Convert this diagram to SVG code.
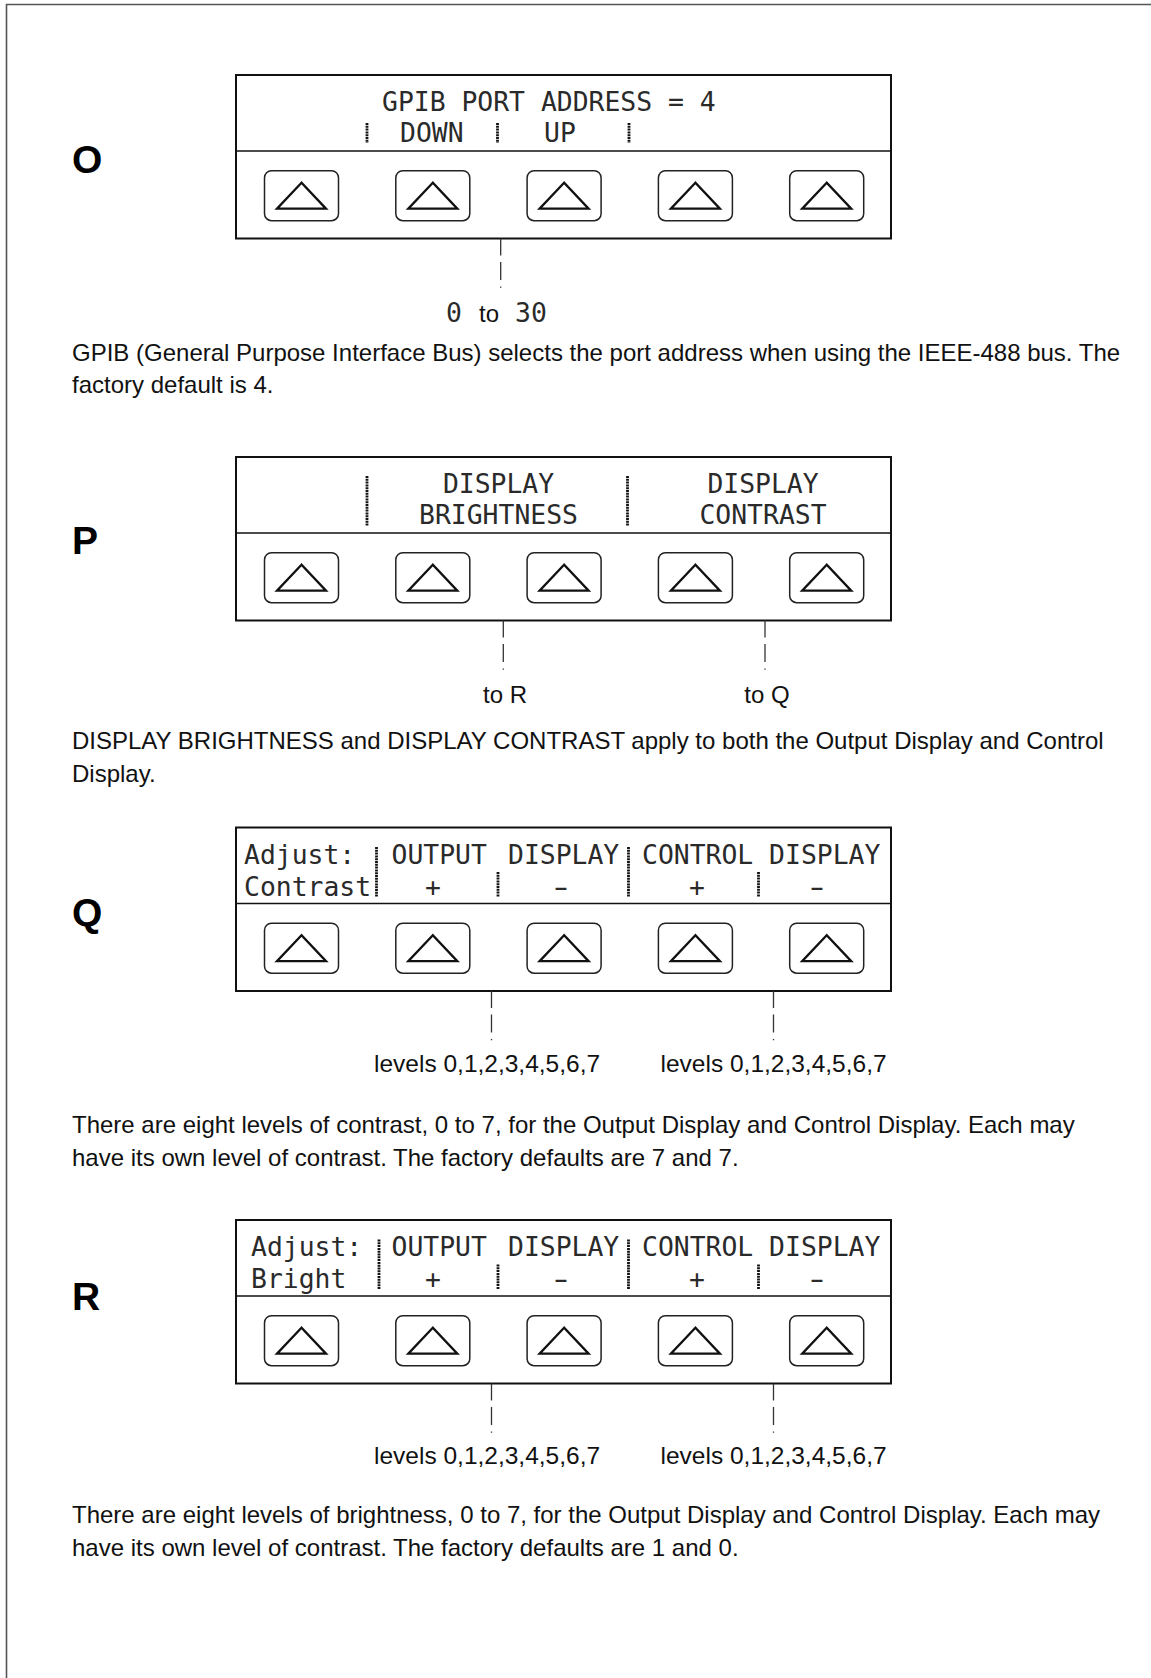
<svg xmlns="http://www.w3.org/2000/svg" xmlns:xlink="http://www.w3.org/1999/xlink" width="1151" height="1678" viewBox="0 0 1151 1678">
<style>
.frame{stroke:#555;stroke-width:1.6;fill:none}
.panel{fill:#fff;stroke:#111;stroke-width:2}
.div{stroke:#111;stroke-width:1.5}
.btn{fill:#fff;stroke:#222;stroke-width:1.5}
.tri{fill:none;stroke:#111;stroke-width:2.3}
.lcd{font-family:"DejaVu Sans Mono","Liberation Mono",monospace;font-size:26.4px;fill:#2a2a2a}
.mid{text-anchor:middle}
.bar{stroke:#111;stroke-width:2.8;stroke-dasharray:2 0.8}
.lbl{font-family:"Liberation Sans",Arial,sans-serif;font-weight:bold;font-size:39px;fill:#000}
.body{font-family:"Liberation Sans",Arial,sans-serif;font-size:24px;fill:#111}
.lev{font-family:"Liberation Sans",Arial,sans-serif;font-size:24.5px;fill:#111}
.conn{stroke:#333;stroke-width:1.3;fill:none;stroke-dasharray:17 6.5 18 6.5 1.2 60}
</style>
<defs>
<g id="btn">
<rect class="btn" x="0" y="0" width="74" height="50" rx="7"/>
<polygon class="tri" points="37,12 12.5,38 61.5,38"/>
</g>
</defs>
<rect width="1151" height="1678" fill="#fff"/>
<path class="frame" d="M6.5,1678 V4.5 H1151"/>

<!-- Panel O -->
<g id="node-O">
<text class="lbl" x="72" y="173">O</text>
<rect class="panel" x="236" y="75" width="655" height="163.5"/>
<line class="div" x1="236" y1="151" x2="891" y2="151"/>
<text class="lcd" x="382" y="111">GPIB PORT ADDRESS = 4</text>
<line class="bar" x1="367" y1="123" x2="367" y2="143"/>
<text class="lcd" x="400" y="142">DOWN</text>
<line class="bar" x1="497.5" y1="123" x2="497.5" y2="143"/>
<text class="lcd" x="544" y="142">UP</text>
<line class="bar" x1="629" y1="123" x2="629" y2="143"/>
<use xlink:href="#btn" x="264.5" y="170.7"/>
<use xlink:href="#btn" x="395.8" y="170.7"/>
<use xlink:href="#btn" x="527.1" y="170.7"/>
<use xlink:href="#btn" x="658.4" y="170.7"/>
<use xlink:href="#btn" x="789.7" y="170.7"/>
<text class="lcd" x="446" y="322">0</text>
<text class="body" x="479" y="322">to</text>
<text class="lcd" x="515" y="322">30</text>
<text class="body" x="72" y="360.5">GPIB (General Purpose Interface Bus) selects the port address when using the IEEE-488 bus. The</text>
<text class="body" x="72" y="393.4">factory default is 4.</text>
</g>

<!-- Panel P -->
<g id="node-P">
<text class="lbl" x="72" y="553.5">P</text>
<rect class="panel" x="236" y="457" width="655" height="163.5"/>
<line class="div" x1="236" y1="533" x2="891" y2="533"/>
<line class="bar" x1="367" y1="476" x2="367" y2="526"/>
<line class="bar" x1="627.5" y1="476" x2="627.5" y2="526"/>
<text class="lcd mid" x="498.5" y="493">DISPLAY</text>
<text class="lcd mid" x="498.5" y="524">BRIGHTNESS</text>
<text class="lcd mid" x="763" y="493">DISPLAY</text>
<text class="lcd mid" x="763" y="524">CONTRAST</text>
<use xlink:href="#btn" x="264.5" y="552.7"/>
<use xlink:href="#btn" x="395.8" y="552.7"/>
<use xlink:href="#btn" x="527.1" y="552.7"/>
<use xlink:href="#btn" x="658.4" y="552.7"/>
<use xlink:href="#btn" x="789.7" y="552.7"/>
<text class="body mid" x="505" y="702.5">to R</text>
<text class="body mid" x="767" y="702.5">to Q</text>
<text class="body" x="72" y="748.6">DISPLAY BRIGHTNESS and DISPLAY CONTRAST apply to both the Output Display and Control</text>
<text class="body" x="72" y="781.5">Display.</text>
</g>

<!-- Panel Q -->
<g id="node-Q">
<text class="lbl" x="72" y="926">Q</text>
<rect class="panel" x="236" y="827.5" width="655" height="163.5"/>
<line class="div" x1="236" y1="903.5" x2="891" y2="903.5"/>
<text class="lcd" x="244" y="863.5">Adjust:</text>
<text class="lcd" x="244" y="896">Contrast</text>
<line class="bar" x1="376.5" y1="847" x2="376.5" y2="897"/>
<text class="lcd" x="391.5" y="863.5">OUTPUT</text>
<text class="lcd" x="508" y="863.5">DISPLAY</text>
<text class="lcd mid" x="433" y="896">+</text>
<line class="bar" x1="498" y1="872" x2="498" y2="897"/>
<text class="lcd mid" transform="translate(561,896) scale(1.6,1)">-</text>
<line class="bar" x1="628.5" y1="847" x2="628.5" y2="897"/>
<text class="lcd" x="642" y="863.5">CONTROL DISPLAY</text>
<text class="lcd mid" x="697" y="896">+</text>
<line class="bar" x1="758.5" y1="872" x2="758.5" y2="897"/>
<text class="lcd mid" transform="translate(817,896) scale(1.6,1)">-</text>
<use xlink:href="#btn" x="264.5" y="923.2"/>
<use xlink:href="#btn" x="395.8" y="923.2"/>
<use xlink:href="#btn" x="527.1" y="923.2"/>
<use xlink:href="#btn" x="658.4" y="923.2"/>
<use xlink:href="#btn" x="789.7" y="923.2"/>
<text class="lev" x="374" y="1072">levels 0,1,2,3,4,5,6,7</text>
<text class="lev" x="660.5" y="1072">levels 0,1,2,3,4,5,6,7</text>
<text class="body" x="72" y="1132.6">There are eight levels of contrast, 0 to 7, for the Output Display and Control Display. Each may</text>
<text class="body" x="72" y="1165.5">have its own level of contrast. The factory defaults are 7 and 7.</text>
</g>

<!-- Panel R -->
<g id="node-R">
<text class="lbl" x="72" y="1310">R</text>
<rect class="panel" x="236" y="1220" width="655" height="163.5"/>
<line class="div" x1="236" y1="1296" x2="891" y2="1296"/>
<text class="lcd" x="251" y="1256">Adjust:</text>
<text class="lcd" x="251" y="1288">Bright</text>
<line class="bar" x1="379" y1="1239.5" x2="379" y2="1289.5"/>
<text class="lcd" x="391.5" y="1256">OUTPUT</text>
<text class="lcd" x="508" y="1256">DISPLAY</text>
<text class="lcd mid" x="433" y="1288">+</text>
<line class="bar" x1="498" y1="1264.5" x2="498" y2="1289.5"/>
<text class="lcd mid" transform="translate(561,1288) scale(1.6,1)">-</text>
<line class="bar" x1="628.5" y1="1239.5" x2="628.5" y2="1289.5"/>
<text class="lcd" x="642" y="1256">CONTROL DISPLAY</text>
<text class="lcd mid" x="697" y="1288">+</text>
<line class="bar" x1="758.5" y1="1264.5" x2="758.5" y2="1289.5"/>
<text class="lcd mid" transform="translate(817,1288) scale(1.6,1)">-</text>
<use xlink:href="#btn" x="264.5" y="1315.7"/>
<use xlink:href="#btn" x="395.8" y="1315.7"/>
<use xlink:href="#btn" x="527.1" y="1315.7"/>
<use xlink:href="#btn" x="658.4" y="1315.7"/>
<use xlink:href="#btn" x="789.7" y="1315.7"/>
<text class="lev" x="374" y="1463.5">levels 0,1,2,3,4,5,6,7</text>
<text class="lev" x="660.5" y="1463.5">levels 0,1,2,3,4,5,6,7</text>
<text class="body" x="72" y="1523">There are eight levels of brightness, 0 to 7, for the Output Display and Control Display. Each may</text>
<text class="body" x="72" y="1555.5">have its own level of contrast. The factory defaults are 1 and 0.</text>
</g>

<g id="connectors">
<path class="conn" d="M500.7,238.5 V290"/>
<path class="conn" d="M503.3,620.5 V672"/>
<path class="conn" d="M765,620.5 V672"/>
<path class="conn" d="M491.5,991 V1043"/>
<path class="conn" d="M773.5,991 V1043"/>
<path class="conn" d="M491.5,1383.5 V1435"/>
<path class="conn" d="M773.5,1383.5 V1435"/>
</g>
</svg>
